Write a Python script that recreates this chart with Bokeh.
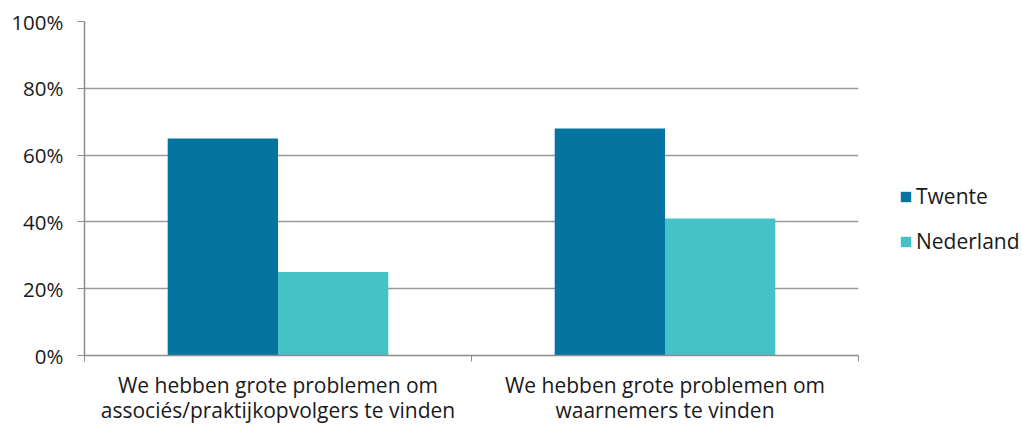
from bokeh.plotting import figure
from bokeh.models import (ColumnDataSource, FixedTicker, NumeralTickFormatter, Legend, LegendItem,
                          Range1d, LinearAxis)
from bokeh.embed import file_html
from bokeh.resources import INLINE

categories_line1 = ["We hebben grote problemen om", "We hebben grote problemen om"]
categories_line2 = ["associés/praktijkopvolgers te vinden", "waarnemers te vinden"]
series_names = ["Twente", "Nederland"]
twente = [0.65, 0.68]
nederland = [0.25, 0.41]
y_ticks = [0, 0.2, 0.4, 0.6, 0.8, 1.0]

colors = ["#0474A0", "#44C2C6"]
FONT = "Open Sans"
TXT = "#1a1a1a"
AX = "#8C8C8C"

p = figure(frame_width=774, frame_height=334, output_backend="svg", toolbar_location=None,
           x_range=Range1d(0, len(categories_line1)), y_range=Range1d(0, 1),
           min_border_left=84, min_border_right=0, min_border_top=21, min_border_bottom=0,
           x_axis_location=None)
p.outline_line_color = None
p.background_fill_color = "white"

centers = [i + 0.5 for i in range(len(categories_line1))]
bw = 0.285
src1 = ColumnDataSource(dict(x=[c - bw / 2 for c in centers], top=twente))
src2 = ColumnDataSource(dict(x=[c + bw / 2 for c in centers], top=nederland))
r1 = p.vbar(x="x", top="top", width=bw, source=src1, fill_color=colors[0], line_color=None)
r2 = p.vbar(x="x", top="top", width=bw, source=src2, fill_color=colors[1], line_color=None)

# x axis: line 1 of category labels
ax1 = LinearAxis(ticker=FixedTicker(ticks=centers, minor_ticks=list(range(len(centers) + 1))))
ax1.major_label_overrides = {c: lab for c, lab in zip(centers, categories_line1)}
ax1.major_tick_line_color = None
ax1.major_tick_out = 0
ax1.minor_tick_line_color = AX
ax1.minor_tick_out = 6
ax1.minor_tick_in = 0
ax1.axis_line_color = AX
ax1.axis_line_width = 1.5
ax1.major_label_text_font = FONT
ax1.major_label_text_font_size = "21px"
ax1.major_label_text_color = TXT
ax1.major_label_standoff = 9
p.add_layout(ax1, "below")

# x axis: line 2 of category labels
ax2 = LinearAxis(ticker=FixedTicker(ticks=centers, minor_ticks=[]))
ax2.major_label_overrides = {c: lab for c, lab in zip(centers, categories_line2)}
ax2.major_tick_line_color = None
ax2.major_tick_out = 0
ax2.minor_tick_line_color = None
ax2.axis_line_color = None
ax2.major_label_text_font = FONT
ax2.major_label_text_font_size = "21px"
ax2.major_label_text_color = TXT
ax2.major_label_standoff = -6
p.add_layout(ax2, "below")

p.yaxis.ticker = FixedTicker(ticks=y_ticks)
p.yaxis.formatter = NumeralTickFormatter(format="0%")
p.yaxis.major_tick_line_color = AX
p.yaxis.major_tick_out = 7
p.yaxis.major_tick_in = 0
p.yaxis.minor_tick_line_color = None
p.yaxis.axis_line_color = AX
p.yaxis.axis_line_width = 1.5
p.yaxis.major_label_text_font = FONT
p.yaxis.major_label_text_font_size = "20.5px"
p.yaxis.major_label_text_color = TXT
p.yaxis.major_label_standoff = 14

p.xgrid.grid_line_color = None
p.ygrid.grid_line_color = "#9A9A9A"
p.ygrid.grid_line_width = 1.5

legend = Legend(items=[LegendItem(label=series_names[0], renderers=[r1]),
                       LegendItem(label=series_names[1], renderers=[r2])],
                location=(41, 100), border_line_color=None, background_fill_alpha=0,
                glyph_width=13, glyph_height=13, label_standoff=4, spacing=17,
                label_text_font=FONT, label_text_font_size="21px", label_text_color=TXT,
                margin=0, padding=0)
p.add_layout(legend, "right")

open("out.html", "w").write(file_html(p, INLINE))
